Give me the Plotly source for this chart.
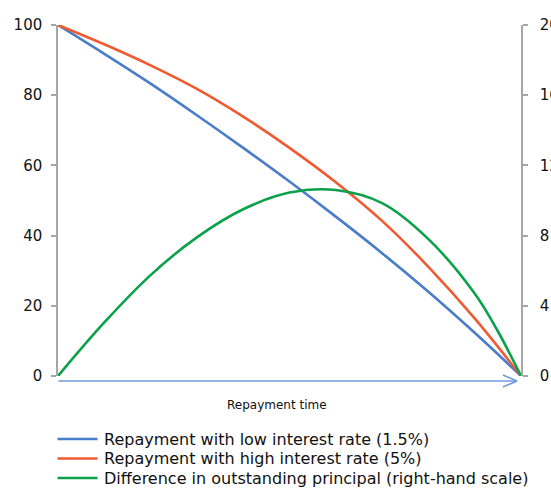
import plotly.graph_objects as go

# Data (x = fraction of repayment time)
x_time = [0.0, 0.1, 0.2, 0.3, 0.4, 0.5, 0.6, 0.7, 0.8, 0.9, 1.0]
low_rate = [100, 91.8, 83.3, 74.3, 65.0, 55.4, 45.4, 35.0, 24.0, 12.3, 0]
high_rate = [100, 94.5, 88.5, 81.8, 73.9, 65.0, 55.2, 44.2, 31.1, 16.4, 0]
x_diff = [0.0, 0.1, 0.2, 0.3, 0.4, 0.5, 0.6, 0.7, 0.8, 0.9, 0.95, 1.0]
difference = [0, 3.05, 5.75, 7.9, 9.5, 10.45, 10.6, 9.85, 7.8, 4.7, 2.55, 0]

left_ticks = [0, 20, 40, 60, 80, 100]
right_ticks = [0, 4, 8, 12, 16, 20]

names = [
    "Repayment with low interest rate (1.5%)",
    "Repayment with high interest rate (5%)",
    "Difference in outstanding principal (right-hand scale)",
]
colors = ["#4a7dc9", "#ee5a32", "#0ba14a"]

FONT = "DejaVu Sans"
AXC = "#a6a6a6"

fig = go.Figure()
fig.add_trace(go.Scatter(x=x_time, y=low_rate, mode="lines", name=names[0], showlegend=False,
                         line=dict(color=colors[0], width=2.6, shape="spline", smoothing=1.0)))
fig.add_trace(go.Scatter(x=x_time, y=high_rate, mode="lines", name=names[1], showlegend=False,
                         line=dict(color=colors[1], width=2.6, shape="spline", smoothing=1.0)))
fig.add_trace(go.Scatter(x=x_diff, y=difference, mode="lines", name=names[2], yaxis="y2",
                         showlegend=False,
                         line=dict(color=colors[2], width=2.6, shape="spline", smoothing=1.0)))

axis_common = dict(showgrid=False, zeroline=False, showline=True, linecolor=AXC, linewidth=1.5,
                   ticks="outside", ticklen=5, tickcolor=AXC, tickwidth=1.5, automargin=False,
                   tickfont=dict(family=FONT, size=15, color="#111111"))

# Legend drawn as line samples + text (paper coordinates)
legend_y = [-0.1795, -0.2350, -0.2906]
shapes = []
annotations = []
for nm, col, ly in zip(names, colors, legend_y):
    shapes.append(dict(type="line", xref="paper", yref="paper", x0=-0.0011, x1=0.0853,
                       y0=ly, y1=ly, line=dict(color=col, width=2.6)))
    annotations.append(dict(text=nm, xref="paper", yref="paper", x=0.095, y=ly,
                            showarrow=False, xanchor="left", yanchor="middle",
                            font=dict(family=FONT, size=16, color="#111111")))

annotations.append(dict(text="Repayment time", xref="paper", yref="paper", x=0.473, y=-0.0826,
                        showarrow=False, xanchor="center", yanchor="middle",
                        font=dict(family=FONT, size=12, color="#111111")))

arrow_col = "#6f9bd8"
shapes += [
    dict(type="line", xref="paper", yref="paper", x0=0.001, y0=-0.0142, x1=0.9914, y1=-0.0142,
         line=dict(color=arrow_col, width=1.6)),
    dict(type="line", xref="paper", yref="paper", x0=0.961, y0=0.0028, x1=0.9914, y1=-0.0142,
         line=dict(color=arrow_col, width=1.6)),
    dict(type="line", xref="paper", yref="paper", x0=0.961, y0=-0.0313, x1=0.9914, y1=-0.0142,
         line=dict(color=arrow_col, width=1.6)),
]

fig.update_layout(
    width=551, height=488,
    margin=dict(l=58, r=30, t=25, b=112, autoexpand=False),
    paper_bgcolor="white", plot_bgcolor="white",
    xaxis=dict(range=[0, 1], visible=False),
    yaxis=dict(range=[0, 100], tickvals=left_ticks, ticklabelstandoff=6, **axis_common),
    yaxis2=dict(range=[0, 20], tickvals=right_ticks, overlaying="y", side="right",
                ticklabelstandoff=9, **axis_common),
    showlegend=False,
    annotations=annotations,
    shapes=shapes,
)

fig.write_html("out.html", config={"displayModeBar": False},
               post_script="document.body.style.margin='0';")
